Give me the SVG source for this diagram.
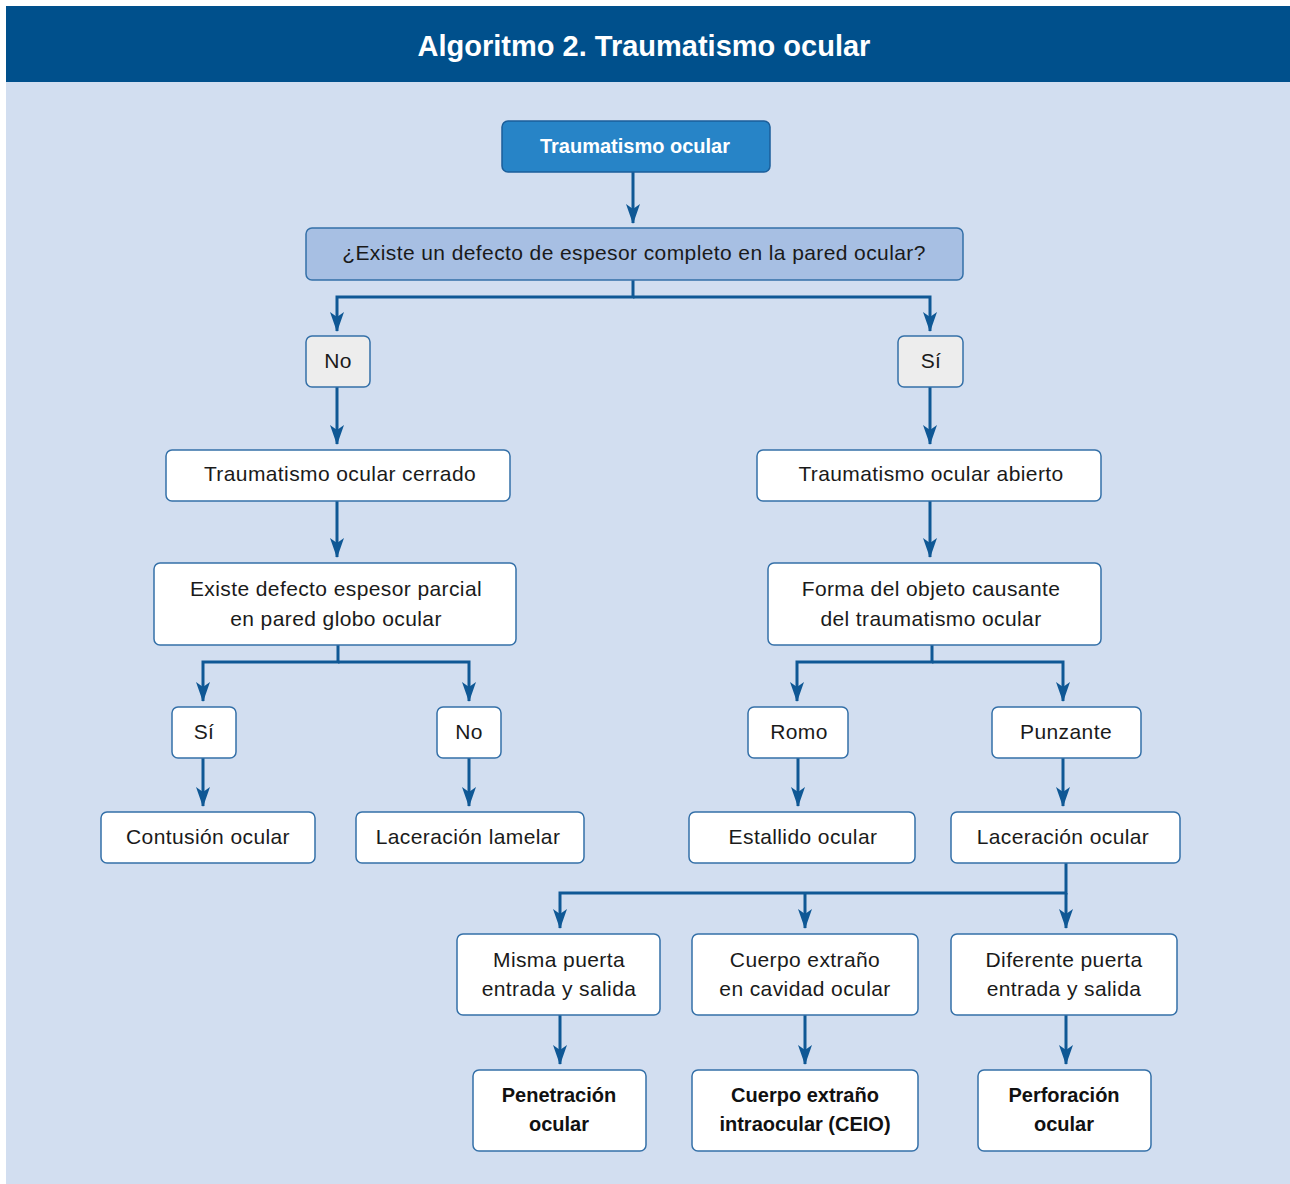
<svg xmlns="http://www.w3.org/2000/svg" width="1290" height="1184" viewBox="0 0 1290 1184">
<defs>
<marker id="arr" viewBox="0 0 20 14" refX="19" refY="7" markerWidth="20" markerHeight="14" markerUnits="userSpaceOnUse" orient="auto">
<path d="M0,0 L20,7 L0,14 L5,7 Z" fill="#0F5895"/>
</marker>
<style>
.box{fill:#ffffff;stroke:#3470A8;stroke-width:1.5}
.yn{fill:#EDEDED;stroke:#3470A8;stroke-width:1.5}
.t{font-family:"Liberation Sans",Arial,sans-serif;font-size:21px;letter-spacing:0.4px;fill:#1a1a1a;text-anchor:middle}
.b{font-family:"Liberation Sans",Arial,sans-serif;font-size:20px;font-weight:bold;fill:#111111;text-anchor:middle}
.c{fill:none;stroke:#0F5895;stroke-width:3}
</style>
</defs>
<rect x="0" y="0" width="1290" height="1184" fill="#ffffff"/>
<rect x="6" y="82" width="1284" height="1102" fill="#D2DEF0"/>
<rect x="6" y="6" width="1284" height="76" fill="#00508C"/>
<text x="644" y="56" font-family="'Liberation Sans',Arial,sans-serif" font-size="29" font-weight="bold" fill="#ffffff" text-anchor="middle">Algoritmo 2. Traumatismo ocular</text>

<g id="connectors">
<path class="c" d="M633,172 V223" marker-end="url(#arr)"/>
<path class="c" d="M633,280 V297 H337 V331" marker-end="url(#arr)"/>
<path class="c" d="M633,297 H930 V331" marker-end="url(#arr)"/>
<path class="c" d="M337,387 V444" marker-end="url(#arr)"/>
<path class="c" d="M930,387 V444" marker-end="url(#arr)"/>
<path class="c" d="M337,501 V557" marker-end="url(#arr)"/>
<path class="c" d="M930,501 V557" marker-end="url(#arr)"/>
<path class="c" d="M338,645 V662 H203 V701" marker-end="url(#arr)"/>
<path class="c" d="M338,662 H469 V701" marker-end="url(#arr)"/>
<path class="c" d="M932,645 V662 H797 V701" marker-end="url(#arr)"/>
<path class="c" d="M932,662 H1063 V701" marker-end="url(#arr)"/>
<path class="c" d="M203,758 V806" marker-end="url(#arr)"/>
<path class="c" d="M469,758 V806" marker-end="url(#arr)"/>
<path class="c" d="M798,758 V806" marker-end="url(#arr)"/>
<path class="c" d="M1063,758 V806" marker-end="url(#arr)"/>
<path class="c" d="M1066,863 V893 H560 V928" marker-end="url(#arr)"/>
<path class="c" d="M805,893 V928" marker-end="url(#arr)"/>
<path class="c" d="M1066,893 V928" marker-end="url(#arr)"/>
<path class="c" d="M560,1015 V1064" marker-end="url(#arr)"/>
<path class="c" d="M805,1015 V1064" marker-end="url(#arr)"/>
<path class="c" d="M1066,1015 V1064" marker-end="url(#arr)"/>
</g>

<g id="n-root"><rect x="502" y="121" width="268" height="51" rx="6" fill="#2784C7" stroke="#1B5E9A" stroke-width="1.5"/><text class="b" x="635" y="153" fill="#ffffff" style="fill:#ffffff">Traumatismo ocular</text></g>
<g id="n-question"><rect x="306" y="228" width="657" height="52" rx="6" fill="#A7BFE3" stroke="#3470A8" stroke-width="1.5"/><text class="t" x="634" y="260">¿Existe un defecto de espesor completo en la pared ocular?</text></g>
<g id="n-no1"><rect class="yn" x="306" y="336" width="64" height="51" rx="6"/><text class="t" x="338" y="368">No</text></g>
<g id="n-si1"><rect class="yn" x="898" y="336" width="65" height="51" rx="6"/><text class="t" x="931" y="368">Sí</text></g>
<g id="n-cerrado"><rect class="box" x="166" y="450" width="344" height="51" rx="6"/><text class="t" x="340" y="481">Traumatismo ocular cerrado</text></g>
<g id="n-abierto"><rect class="box" x="757" y="450" width="344" height="51" rx="6"/><text class="t" x="931" y="481">Traumatismo ocular abierto</text></g>
<g id="n-parcial"><rect class="box" x="154" y="563" width="362" height="82" rx="6"/><text class="t" x="336" y="596">Existe defecto espesor parcial</text><text class="t" x="336" y="626">en pared globo ocular</text></g>
<g id="n-forma"><rect class="box" x="768" y="563" width="333" height="82" rx="6"/><text class="t" x="931" y="596">Forma del objeto causante</text><text class="t" x="931" y="626">del traumatismo ocular</text></g>
<g id="n-si2"><rect class="box" x="172" y="707" width="64" height="51" rx="6"/><text class="t" x="204" y="739">Sí</text></g>
<g id="n-no2"><rect class="box" x="437" y="707" width="64" height="51" rx="6"/><text class="t" x="469" y="739">No</text></g>
<g id="n-romo"><rect class="box" x="748" y="707" width="100" height="51" rx="6"/><text class="t" x="799" y="739">Romo</text></g>
<g id="n-punzante"><rect class="box" x="992" y="707" width="149" height="51" rx="6"/><text class="t" x="1066" y="739">Punzante</text></g>
<g id="n-contusion"><rect class="box" x="101" y="812" width="214" height="51" rx="6"/><text class="t" x="208" y="844">Contusión ocular</text></g>
<g id="n-lamelar"><rect class="box" x="356" y="812" width="228" height="51" rx="6"/><text class="t" x="468" y="844">Laceración lamelar</text></g>
<g id="n-estallido"><rect class="box" x="689" y="812" width="226" height="51" rx="6"/><text class="t" x="803" y="844">Estallido ocular</text></g>
<g id="n-laceracion"><rect class="box" x="951" y="812" width="229" height="51" rx="6"/><text class="t" x="1063" y="844">Laceración ocular</text></g>
<g id="n-misma"><rect class="box" x="457" y="934" width="203" height="81" rx="6"/><text class="t" x="559" y="967">Misma puerta</text><text class="t" x="559" y="996">entrada y salida</text></g>
<g id="n-cuerpo"><rect class="box" x="692" y="934" width="226" height="81" rx="6"/><text class="t" x="805" y="967">Cuerpo extraño</text><text class="t" x="805" y="996">en cavidad ocular</text></g>
<g id="n-diferente"><rect class="box" x="951" y="934" width="226" height="81" rx="6"/><text class="t" x="1064" y="967">Diferente puerta</text><text class="t" x="1064" y="996">entrada y salida</text></g>
<g id="n-penetracion"><rect class="box" x="473" y="1070" width="173" height="81" rx="6"/><text class="b" x="559" y="1102">Penetración</text><text class="b" x="559" y="1131">ocular</text></g>
<g id="n-ceio"><rect class="box" x="692" y="1070" width="226" height="81" rx="6"/><text class="b" x="805" y="1102">Cuerpo extraño</text><text class="b" x="805" y="1131">intraocular (CEIO)</text></g>
<g id="n-perforacion"><rect class="box" x="978" y="1070" width="173" height="81" rx="6"/><text class="b" x="1064" y="1102">Perforación</text><text class="b" x="1064" y="1131">ocular</text></g>
</svg>
